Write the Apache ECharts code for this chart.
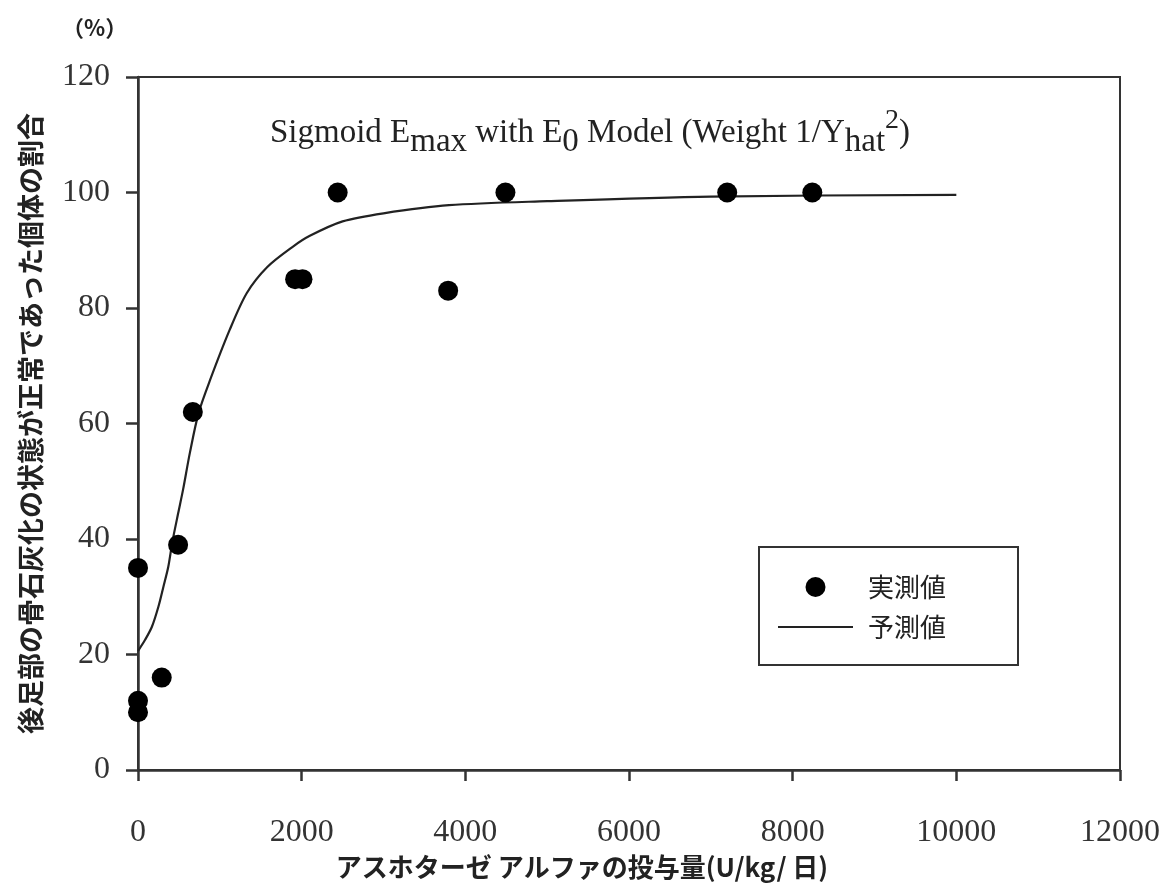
<!DOCTYPE html>
<html>
<head>
<meta charset="utf-8">
<script src="https://cdn.jsdelivr.net/npm/echarts@6/dist/echarts.min.js"></script>
<style>
html, body { margin: 0; padding: 0; background: #fff; }
#ec1 { width: 1165px; height: 892px; }
</style>
</head>
<body>
<div id="ec1"></div>
<script>
// 実測値 (dose, %)
var obsDose = [0, 0, 0, 290, 490, 670, 1920, 2010, 2440, 3790, 4490, 7200, 8240];
var obsPct = [35, 12, 10, 16, 39, 62, 85, 85, 100, 83, 100, 100, 100];
// 予測値 (curve)
var predDose = [0, 85, 170, 250, 310, 370, 420, 490, 550, 635, 740, 880, 1120, 1330, 1580, 1890, 2100, 2500, 3000, 3800, 5000, 7000, 10000];
var predPct = [20.6, 22.5, 24.8, 28.3, 31.7, 35.2, 39.5, 44.4, 48.5, 55.0, 61.8, 67.5, 76.2, 82.6, 87.1, 90.6, 92.5, 95.0, 96.4, 97.8, 98.5, 99.3, 99.6];
var xTicks = [0, 2000, 4000, 6000, 8000, 10000, 12000];
var yTicks = [0, 20, 40, 60, 80, 100, 120];

var jp = '"Noto Sans CJK JP", sans-serif';
var serif = '"Liberation Serif", "Times New Roman", serif';

function pairs(xs, ys) {
	var out = [];
	for (var i = 0; i < xs.length; i++) {
		out.push([xs[i], ys[i]]);
	}
	return out;
}

window.onload = function(){
	var myCharts = echarts.init(document.getElementById('ec1'));
	var option = {
		backgroundColor: '#fff',
		animation: false,
		title: {
			text: 'Sigmoid E{sub|max} with E{sub|0} Model (Weight 1/Y{sub|hat}{sup|2})',
			left: 585,
			top: 102,
			textAlign: 'center',
			textStyle: {
				fontFamily: serif,
				fontWeight: 'normal',
				fontSize: 33,
				color: '#222',
				rich: {
					sub: { fontFamily: serif, fontSize: 33, color: '#222', padding: [18, 0, 0, 0] },
					sup: { fontFamily: serif, fontSize: 28, color: '#222', padding: [0, 0, 24, 0] }
				}
			}
		},
		grid: {
			left: 138,
			right: 45,
			top: 77,
			bottom: 122,
			show: true,
			borderColor: '#333',
			borderWidth: 2
		},
		legend: {
			left: 759,
			top: 547,
			orient: 'vertical',
			itemWidth: 75,
			itemHeight: 20,
			itemGap: 14,
			padding: [27, 72, 25, 18],
			borderColor: '#333',
			borderWidth: 2,
			textStyle: {
				fontFamily: jp,
				fontSize: 26,
				color: '#222',
				padding: [0, 0, 0, 10]
			},
			data: [
				{ name: '実測値' },
				{ name: '予測値', itemStyle: { opacity: 0 } }
			]
		},
		xAxis: {
			type: 'value',
			min: xTicks[0],
			max: xTicks[xTicks.length - 1],
			interval: 2000,
			name: 'アスホターゼ アルファの投与量(U/kg/ 日)',
			nameLocation: 'middle',
			nameGap: 76,
			nameTextStyle: {
				fontFamily: jp,
				fontWeight: 'bold',
				fontSize: 26,
				color: '#222',
				padding: [0, 94, 0, 0]
			},
			splitLine: { show: false },
			axisLine: { lineStyle: { color: '#333', width: 2.5 } },
			axisTick: { length: 11, lineStyle: { color: '#333', width: 2.5 } },
			axisLabel: {
				margin: 47,
				fontFamily: serif,
				fontSize: 32,
				color: '#333',
				formatter: function (v) { return String(v); }
			}
		},
		yAxis: {
			type: 'value',
			min: yTicks[0],
			max: yTicks[yTicks.length - 1],
			interval: 20,
			name: '後足部の骨石灰化の状態が正常であった個体の割合',
			nameLocation: 'middle',
			nameGap: 94,
			nameTextStyle: {
				fontFamily: jp,
				fontWeight: 'bold',
				fontSize: 27,
				color: '#222'
			},
			splitLine: { show: false },
			axisLine: { lineStyle: { color: '#333', width: 2.5 } },
			axisTick: { length: 12, lineStyle: { color: '#333', width: 2.5 } },
			axisLabel: {
				margin: 28,
				fontFamily: serif,
				fontSize: 32,
				color: '#333'
			}
		},
		graphic: [
			{
				type: 'text',
				left: 62,
				top: 17,
				style: {
					text: '（%）',
					fontFamily: jp,
					fontWeight: 'bold',
					fontSize: 22,
					fill: '#222'
				}
			}
		],
		series: [
			{
				name: '予測値',
				type: 'line',
				data: pairs(predDose, predPct),
				smooth: 0.3,
				showSymbol: false,
				symbol: 'none',
				lineStyle: { color: '#222', width: 2.2 },
				itemStyle: { color: '#222' },
				z: 2
			},
			{
				name: '実測値',
				type: 'scatter',
				data: pairs(obsDose, obsPct),
				symbol: 'circle',
				symbolSize: 20,
				itemStyle: { color: '#000', opacity: 1 },
				z: 3
			}
		]
	};
	myCharts.setOption(option);
};
</script>
</body>
</html>
